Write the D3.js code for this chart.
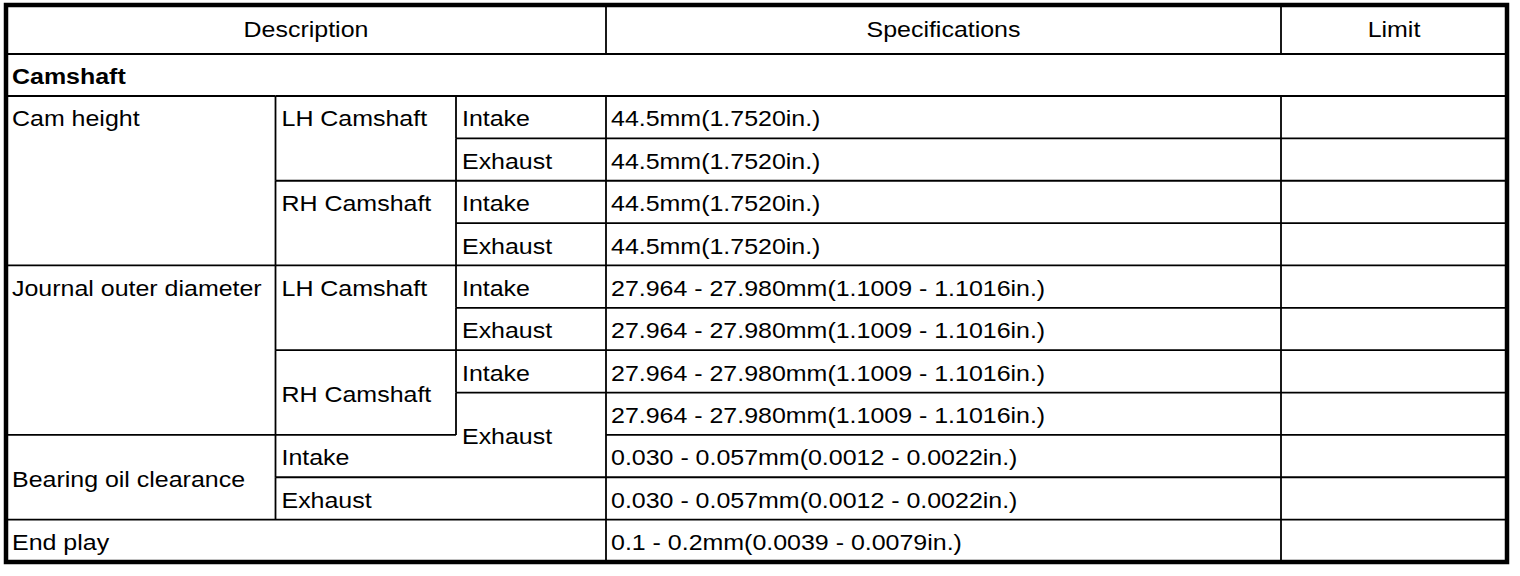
<!DOCTYPE html>
<html>
<head>
<meta charset="utf-8">
<script src="https://cdn.jsdelivr.net/npm/d3@7"></script>
<style>
  html, body { margin: 0; padding: 0; background: #fff; }
  svg { display: block; }
  text { font-family: "Liberation Sans", Arial, Helvetica, sans-serif; fill: #000; }
</style>
</head>
<body>
<svg id="chart" width="1520" height="576"></svg>
<script>
// ---- data ----
const headers = ["Description", "Specifications", "Limit"];
const sectionTitle = "Camshaft";
const items = ["Cam height", "Journal outer diameter", "Bearing oil clearance", "End play"];
const sides = ["LH Camshaft", "RH Camshaft"];
const valves = ["Intake", "Exhaust"];
const specValues = [
  "44.5mm(1.7520in.)",
  "44.5mm(1.7520in.)",
  "44.5mm(1.7520in.)",
  "44.5mm(1.7520in.)",
  "27.964 - 27.980mm(1.1009 - 1.1016in.)",
  "27.964 - 27.980mm(1.1009 - 1.1016in.)",
  "27.964 - 27.980mm(1.1009 - 1.1016in.)",
  "27.964 - 27.980mm(1.1009 - 1.1016in.)",
  "0.030 - 0.057mm(0.0012 - 0.0022in.)",
  "0.030 - 0.057mm(0.0012 - 0.0022in.)",
  "0.1 - 0.2mm(0.0039 - 0.0079in.)"
];
const limitValues = ["", "", "", "", "", "", "", "", "", "", ""];

// ---- table structure (row/col indices and spans) ----
const bodyCells = [
  { r: 0, c: 0, rs: 4, cs: 1, t: items[0], v: "top" },
  { r: 0, c: 1, rs: 2, cs: 1, t: sides[0], v: "top" },
  { r: 2, c: 1, rs: 2, cs: 1, t: sides[1], v: "top" },
  { r: 0, c: 2, rs: 1, cs: 1, t: valves[0] },
  { r: 1, c: 2, rs: 1, cs: 1, t: valves[1] },
  { r: 2, c: 2, rs: 1, cs: 1, t: valves[0] },
  { r: 3, c: 2, rs: 1, cs: 1, t: valves[1] },
  { r: 4, c: 0, rs: 4, cs: 1, t: items[1], v: "top" },
  { r: 4, c: 1, rs: 2, cs: 1, t: sides[0], v: "top" },
  { r: 6, c: 1, rs: 2, cs: 1, t: sides[1], v: "middle" },
  { r: 4, c: 2, rs: 1, cs: 1, t: valves[0] },
  { r: 5, c: 2, rs: 1, cs: 1, t: valves[1] },
  { r: 6, c: 2, rs: 1, cs: 1, t: valves[0] },
  { r: 7, c: 2, rs: 2, cs: 1, t: valves[1], v: "middle", leftRows: 1 },
  { r: 8, c: 0, rs: 2, cs: 1, t: items[2], v: "middle" },
  { r: 8, c: 1, rs: 1, cs: 1, t: valves[0] },
  { r: 9, c: 1, rs: 1, cs: 2, t: valves[1] },
  { r: 10, c: 0, rs: 1, cs: 3, t: items[3] }
];
specValues.forEach((s, i) => bodyCells.push({ r: i, c: 3, rs: 1, cs: 1, t: s }));
limitValues.forEach((s, i) => bodyCells.push({ r: i, c: 4, rs: 1, cs: 1, t: s }));

// ---- layout ----
const colEdges = [6, 275.5, 456, 606, 1281, 1507];
const topY = 5, headerBottom = 54, sectionBottom = 96, bottomY = 562;
const nRows = specValues.length;
const y = d3.scaleLinear().domain([0, nRows]).range([sectionBottom, bottomY]);
const x = i => colEdges[i];
const SX = 1.135;         // horizontal stretch of the glyphs
const FS = 22;
const innerW = 1.8;

const svg = d3.select("#chart");
svg.append("rect").attr("width", 1520).attr("height", 576).attr("fill", "#fff");

const lines = svg.append("g").attr("stroke", "#000").attr("stroke-width", innerW).attr("fill", "none");
const texts = svg.append("g").attr("font-size", FS);

function addText(str, tx, ty, anchor, bold) {
  texts.append("text")
    .attr("transform", `translate(${tx},${ty}) scale(${SX},1)`)
    .attr("text-anchor", anchor)
    .attr("font-weight", bold ? "bold" : null)
    .text(str);
}

// header
const headerSpans = [[0, 3], [3, 4], [4, 5]];
headers.forEach((h, i) => {
  const [a, b] = headerSpans[i];
  if (a > 0) lines.append("line").attr("x1", x(a)).attr("x2", x(a)).attr("y1", topY).attr("y2", headerBottom);
  addText(h, (x(a) + x(b)) / 2, 36.5, "middle", false);
});
// section row
lines.append("line").attr("x1", x(0)).attr("x2", x(5)).attr("y1", headerBottom).attr("y2", headerBottom);
addText(sectionTitle, x(0) + 6, 84, "start", true);

// body cells: top edge + left edge
bodyCells.forEach(d => {
  const x0 = x(d.c), x1 = x(d.c + d.cs);
  const y0 = y(d.r), y1 = y(d.r + d.rs);
  lines.append("line").attr("x1", x0).attr("x2", x1).attr("y1", y0).attr("y2", y0);
  if (d.c > 0) {
    const yl = y(d.r + (d.leftRows || d.rs));
    lines.append("line").attr("x1", x0).attr("x2", x0).attr("y1", y0).attr("y2", yl);
  }
  if (d.t) {
    let cy;
    if (d.v === "top") cy = (y(d.r) + y(d.r + 1)) / 2;
    else cy = (y0 + y1) / 2;
    const pad = d.c === 3 ? 5 : 6;
    addText(d.t, x0 + pad, cy + 9.3, "start", false);
  }
});

// outer frame
svg.append("rect")
  .attr("x", x(0)).attr("y", topY)
  .attr("width", x(5) - x(0)).attr("height", bottomY - topY)
  .attr("fill", "none").attr("stroke", "#000").attr("stroke-width", 4.5);
</script>
</body>
</html>
